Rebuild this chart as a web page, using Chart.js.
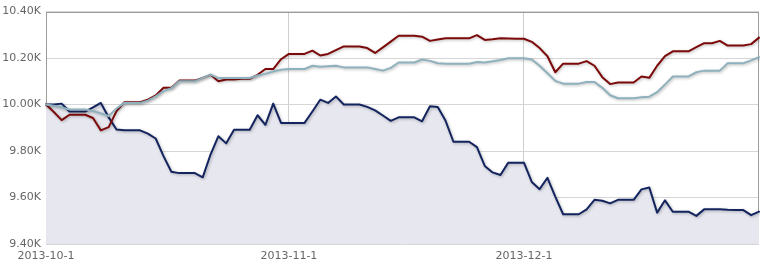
<!DOCTYPE html>
<html><head><meta charset="utf-8">
<script src="https://cdn.jsdelivr.net/npm/chart.js@4.4.1/dist/chart.umd.min.js"></script>
<style>html,body{margin:0;padding:0;background:#fff;}#wrap{width:766px;height:261px;position:relative;}</style>
</head><body><div id="wrap"><canvas id="c"></canvas></div>
<script>
// Day-by-day categories from 2013-10-1 to 2013-12-31
const firstDay = [2013, 10, 1];
const dayCount = 92;
const tickLabels = ['2013-10-1', '2013-11-1', '2013-12-1'];
const yTicks = [9400, 9600, 9800, 10000, 10200, 10400];

const seriesNavy = [10000,10000,10004,9970,9970,9970,9988,10007,9945,9893,
  9889,9889,9889,9875,9854,9778,9711,9705,9705,9705,
  9687,9785,9864,9833,9892,9892,9892,9954,9913,10004,
  9921,9921,9921,9921,9970,10021,10007,10035,10000,10000,
  10000,9990,9975,9953,9930,9945,9945,9945,9928,9993,
  9989,9930,9840,9840,9840,9817,9736,9708,9697,9750,
  9750,9750,9667,9636,9685,9604,9528,9528,9528,9549,
  9590,9586,9575,9590,9590,9590,9635,9643,9535,9588,
  9539,9539,9539,9521,9549,9549,9549,9547,9546,9546,
  9524,9539];

const seriesRed = [10000,9968,9933,9956,9956,9956,9942,9889,9903,9972,
  10010,10010,10010,10021,10039,10072,10072,10103,10103,10103,
  10115,10128,10100,10108,10108,10111,10111,10128,10153,10153,
  10195,10218,10218,10218,10232,10211,10218,10234,10250,10250,
  10250,10243,10222,10246,10271,10296,10296,10296,10292,10274,
  10280,10285,10285,10285,10285,10299,10278,10281,10285,10284,
  10283,10283,10270,10243,10208,10139,10176,10176,10176,10187,
  10167,10118,10088,10095,10095,10095,10121,10115,10167,10208,
  10229,10229,10229,10247,10264,10264,10274,10254,10254,10254,
  10260,10288];

const seriesBlue = [10000,9995,9987,9979,9979,9979,9972,9962,9951,9983,
  10007,10007,10007,10017,10035,10058,10070,10100,10100,10100,
  10115,10129,10114,10114,10114,10114,10114,10125,10132,10142,
  10150,10153,10153,10153,10167,10163,10165,10167,10160,10160,
  10160,10160,10153,10146,10158,10181,10181,10181,10194,10188,
  10178,10176,10176,10176,10176,10183,10181,10186,10192,10199,
  10199,10199,10194,10167,10135,10102,10090,10090,10090,10097,
  10097,10072,10040,10027,10027,10027,10031,10034,10053,10086,
  10121,10121,10121,10139,10146,10146,10146,10178,10178,10178,
  10190,10204];

const categories = [];
for (let i = 0; i < dayCount; i++) {
  const d = new Date(Date.UTC(firstDay[0], firstDay[1] - 1, firstDay[2] + i));
  categories.push(d.getUTCFullYear() + '-' + (d.getUTCMonth() + 1) + '-' + d.getUTCDate());
}

const FONT = {family: "'DejaVu Sans', Verdana, sans-serif", size: 11};
const TEXT = '#666666';
const GRID = '#d6d6d6';
const BORDER = '#9c9c9c';

const shadowPlugin = {
  id: 'lineShadow',
  beforeDatasetDraw(chart) {
    const ctx = chart.ctx;
    ctx.save();
    ctx.shadowColor = 'rgba(0,0,0,0.28)';
    ctx.shadowBlur = 3;
    ctx.shadowOffsetX = 1;
    ctx.shadowOffsetY = 1;
  },
  afterDatasetDraw(chart) { chart.ctx.restore(); }
};

const framePlugin = {
  id: 'frame',
  beforeDatasetsDraw(chart) {
    const a = chart.chartArea, ctx = chart.ctx;
    ctx.save();
    ctx.strokeStyle = BORDER;
    ctx.lineWidth = 1;
    ctx.strokeRect(Math.round(a.left) + 0.5, Math.round(a.top) + 0.5,
      Math.round(a.right - a.left) - 1, Math.round(a.bottom - a.top) - 1);
    ctx.restore();
  }
};

const lineBase = {pointRadius: 0, pointHoverRadius: 0, tension: 0, borderWidth: 2, borderJoinStyle: 'round', borderCapStyle: 'round'};

new Chart(document.getElementById('c'), {
  type: 'line',
  data: {
    labels: categories,
    datasets: [
      Object.assign({label: 'B', data: seriesBlue, borderColor: '#8fb1bd', fill: false}, lineBase),
      Object.assign({label: 'R', data: seriesRed, borderColor: '#7d0a0a', fill: false}, lineBase),
      Object.assign({label: 'N', data: seriesNavy, borderColor: '#13245e', fill: 'start', backgroundColor: '#e6e7ef'}, lineBase)
    ]
  },
  options: {
    responsive: true,
    maintainAspectRatio: false,
    animation: false,
    events: [],
    layout: {padding: {top: 4, right: 7, left: 0, bottom: 0}},
    plugins: {legend: {display: false}, tooltip: {enabled: false}},
    scales: {
      x: {
        type: 'category',
        offset: false,
        border: {display: false},
        grid: {color: '#cfcfcf', drawTicks: false},
        ticks: {autoSkip: false, maxRotation: 0, minRotation: 0, padding: 6, color: TEXT, font: FONT},
        afterBuildTicks(scale) {
          scale.ticks = scale.ticks.filter(t => tickLabels.includes(categories[t.value]));
        },
        afterFit(scale) { scale.height = 17; }
      },
      y: {
        min: yTicks[0],
        max: yTicks[yTicks.length - 1],
        border: {display: false},
        grid: {color: GRID, drawTicks: false},
        ticks: {padding: 5, color: TEXT, font: FONT,
          callback: v => (v / 1000).toFixed(2) + 'K'},
        afterBuildTicks(scale) { scale.ticks = yTicks.map(v => ({value: v})); },
        afterFit(scale) { scale.width = 46; }
      }
    }
  },
  plugins: [framePlugin, shadowPlugin]
});
</script>
</body></html>
